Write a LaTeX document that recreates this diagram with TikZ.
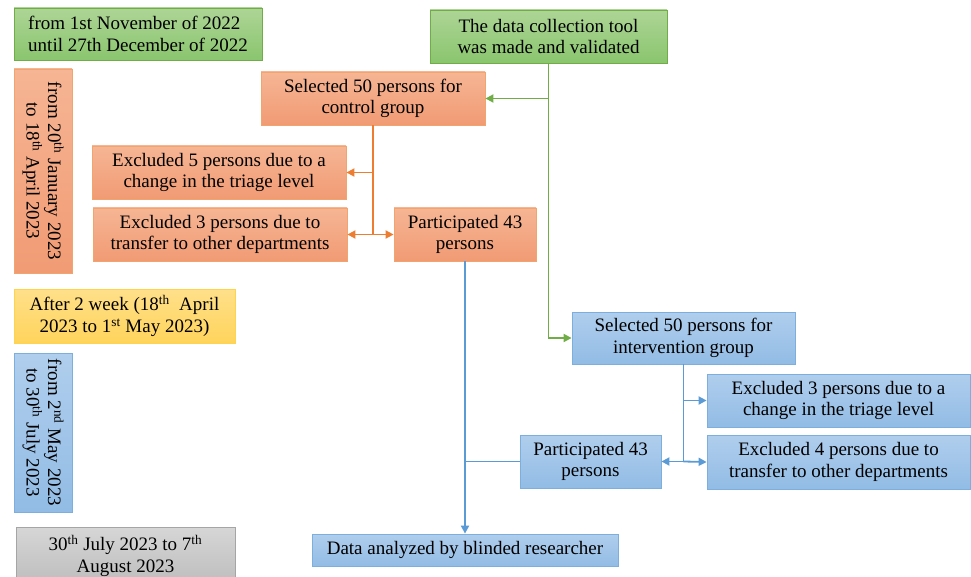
\documentclass[tikz,border=0pt]{standalone}
\usepackage{fontspec}
\setmainfont{Liberation Serif}
\usetikzlibrary{arrows.meta}
\definecolor{grnE}{HTML}{70AD47}
\definecolor{grnT}{HTML}{ADD596}
\definecolor{grnB}{HTML}{8AC56E}
\definecolor{orgE}{HTML}{ED7D31}
\definecolor{orgT}{HTML}{F6B594}
\definecolor{orgB}{HTML}{F19B74}
\definecolor{bluE}{HTML}{5B9BD5}
\definecolor{bluT}{HTML}{B0CEED}
\definecolor{bluB}{HTML}{92BCE5}
\definecolor{ylwE}{HTML}{FFC000}
\definecolor{ylwT}{HTML}{FFE08A}
\definecolor{ylwB}{HTML}{FFD45C}
\definecolor{gryE}{HTML}{A5A5A5}
\definecolor{gryT}{HTML}{D6D6D6}
\definecolor{gryB}{HTML}{BDBDBD}
\begin{document}
\begin{tikzpicture}[x=1pt,y=-1pt,
  >={Triangle[length=8pt,width=8pt]},
  box/.style={draw,line width=0.8pt,align=center,inner sep=2pt,text=black,
    font=\fontsize{19}{21.5}\selectfont},
  grn/.style={box,draw=grnE,top color=grnT,bottom color=grnB},
  org/.style={box,draw=orgE!70,top color=orgT,bottom color=orgB},
  blu/.style={box,draw=bluE!80,top color=bluT,bottom color=bluB},
  ylw/.style={box,draw=ylwE!70,top color=ylwT,bottom color=ylwB},
  gry/.style={box,draw=gryE,top color=gryT,bottom color=gryB},
  lnk/.style={line width=1.8pt}]
\useasboundingbox (0,0) rectangle (971,577);

\node[grn,align=left,minimum width=248,minimum height=52] (P1) at (138,34) {from 1st November of 2022\\until 27th December of 2022};
\node[org,rotate=-90,minimum width=204,minimum height=58] (P2) at (43,171) {from 20\textsuperscript{th} January 2023\\to 18\textsuperscript{th} April 2023};
\node[ylw,minimum width=221,minimum height=54] (P3) at (124.5,316) {After 2 week (18\textsuperscript{th}\ \ April\\2023 to 1\textsuperscript{st} May 2023)};
\node[blu,rotate=-90,minimum width=159,minimum height=58] (P4) at (43,432.5) {from 2\textsuperscript{nd} May 2023\\to 30\textsuperscript{th} July 2023};
\node[gry,minimum width=219,minimum height=57] (P5) at (125.5,556) {30\textsuperscript{th} July 2023 to 7\textsuperscript{th}\\August 2023};

\node[grn,minimum width=237,minimum height=53] (T) at (548.5,36.5) {The data collection tool\\was made and validated};
\node[org,minimum width=224,minimum height=53] (C0) at (373,98.5) {Selected 50 persons for\\control group};
\node[org,minimum width=254,minimum height=53] (C1) at (219,172.5) {Excluded 5 persons due to a\\change in the triage level};
\node[org,minimum width=254,minimum height=53] (C2) at (220,234.5) {Excluded 3 persons due to\\transfer to other departments};
\node[org,minimum width=142,minimum height=53] (C3) at (465,234.5) {Participated 43\\persons};
\node[blu,minimum width=223,minimum height=52] (I0) at (683.5,338) {Selected 50 persons for\\intervention group};
\node[blu,minimum width=263,minimum height=53] (I1) at (838.5,400.5) {Excluded 3 persons due to a\\change in the triage level};
\node[blu,minimum width=263,minimum height=54] (I2) at (838.5,462) {Excluded 4 persons due to\\transfer to other departments};
\node[blu,minimum width=141,minimum height=53] (I3) at (590.5,461.5) {Participated 43\\persons};
\node[blu,minimum width=306,minimum height=32] (D) at (465,550) {Data analyzed by blinded researcher};

\draw[->,lnk,grnE] (T.south) |- (I0.west);
\draw[->,lnk,grnE] (T.south |- C0.east) -- (C0.east);

\coordinate (CJ) at (C0.south |- C3.west);
\draw[lnk,orgE] (C0.south) -- (CJ);
\draw[->,lnk,orgE] (C0.south |- C1.east) -- (C1.east);
\draw[->,lnk,orgE] (CJ) -- (C2.east);
\draw[->,lnk,orgE] (CJ) -- (C3.west);

\coordinate (IJ) at (I0.south |- I3.east);
\draw[lnk,bluE] (I0.south) -- (IJ);
\draw[->,lnk,bluE] (I0.south |- I1.west) -- (I1.west);
\draw[->,lnk,bluE] (IJ) -- (I2.west);
\draw[->,lnk,bluE] (IJ) -- (I3.east);

\draw[->,lnk,bluE] (C3.south) -- (D.north);
\draw[lnk,bluE] (I3.west) -- (C3.south |- I3.west);
\end{tikzpicture}
\end{document}
